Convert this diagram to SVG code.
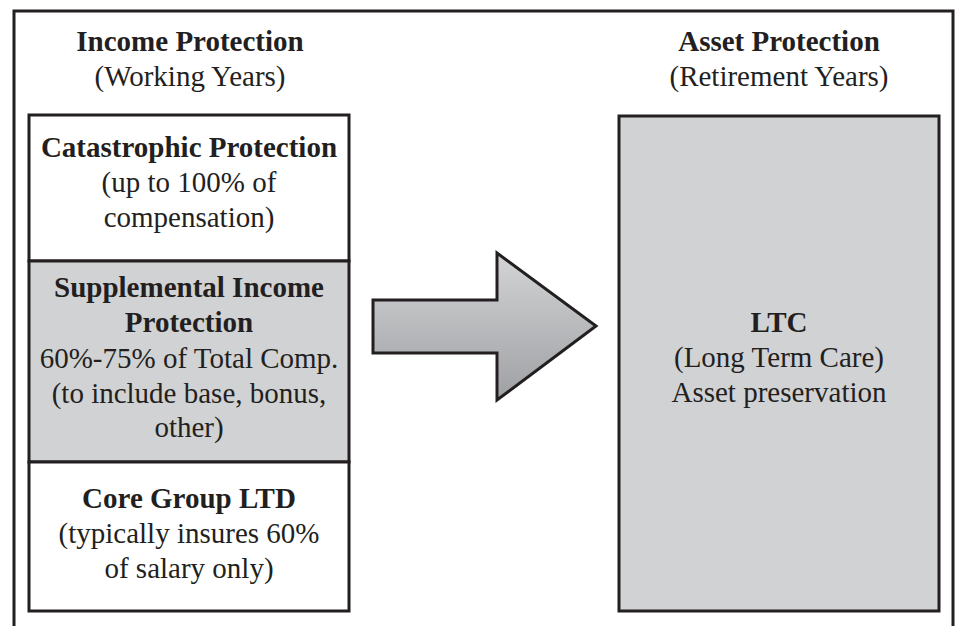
<svg xmlns="http://www.w3.org/2000/svg" width="956" height="626" viewBox="0 0 956 626">
<style>
text{font-family:"Liberation Serif","Times New Roman",serif;font-size:29px;fill:#231f20;text-anchor:middle}
.b{font-weight:bold}
.box{stroke:#231f20;stroke-width:3}
.w{fill:#ffffff}
.g{fill:#d1d2d4}
</style>
<defs>
<linearGradient id="ag" x1="0" y1="0" x2="0" y2="1">
<stop offset="0" stop-color="#d3d4d6"/>
<stop offset="1" stop-color="#9fa0a3"/>
</linearGradient>
</defs>
<rect width="956" height="626" fill="#ffffff"/>
<g id="frame"><path d="M14,626 V11 H953 V626" fill="none" stroke="#231f20" stroke-width="3"/></g>
<g id="income-title"><text x="190" y="51" class="b">Income Protection</text><text x="190" y="86">(Working Years)</text></g>
<g id="asset-title"><text x="779" y="51" class="b">Asset Protection</text><text x="779" y="86">(Retirement Years)</text></g>
<g id="catastrophic"><rect class="box w" x="29" y="115" width="320" height="146"/><text x="189" y="157" class="b">Catastrophic Protection</text><text x="189" y="192">(up to 100% of</text><text x="189" y="227">compensation)</text></g>
<g id="supplemental"><rect class="box g" x="29" y="261" width="320" height="201"/><text x="189" y="297" class="b">Supplemental Income</text><text x="189" y="332" class="b">Protection</text><text x="189" y="368">60%-75% of Total Comp.</text><text x="189" y="403">(to include base, bonus,</text><text x="189" y="437">other)</text></g>
<g id="core"><rect class="box w" x="29" y="462" width="320" height="149"/><text x="189" y="508" class="b">Core Group LTD</text><text x="189" y="543">(typically insures 60%</text><text x="189" y="578">of salary only)</text></g>
<g id="ltc"><rect class="box g" x="619" y="116" width="320" height="495"/><text x="779" y="332" class="b">LTC</text><text x="779" y="367">(Long Term Care)</text><text x="779" y="402">Asset preservation</text></g>
<g id="connectors"><path d="M373,300 H497 V253 L596,326 L497,400 V353 H373 Z" fill="url(#ag)" stroke="#231f20" stroke-width="3" stroke-linejoin="miter"/></g>
</svg>
